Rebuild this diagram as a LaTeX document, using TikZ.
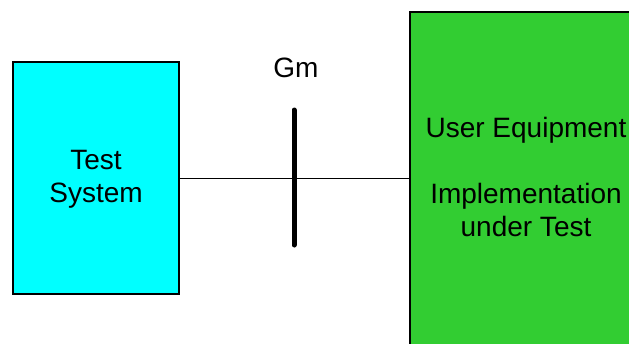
\documentclass[tikz,border=0pt]{standalone}
\usepackage{fontspec}
\setmainfont{Liberation Sans}
\definecolor{tscyan}{RGB}{0,255,255}
\definecolor{uegreen}{RGB}{50,205,50}
\begin{document}
\begin{tikzpicture}[x=1pt,y=-1pt,
  boxstyle/.style={draw=black,line width=1.5pt,inner sep=0pt},
  lbl/.style={font=\fontsize{28}{33}\selectfont,align=center,inner sep=0pt}]
\useasboundingbox (0,0) rectangle (629,343);
\begin{scope}
\clip (0,0) rectangle (629,343);
\draw[boxstyle,fill=tscyan] (13,62) rectangle (179,294);
\draw[boxstyle,fill=uegreen] (410,12) rectangle (640,360);
\end{scope}
\coordinate (tsr) at (179,178);
\coordinate (uel) at (410,178);
\node[lbl] (ts) at (96,179) {Test\\System};
\node[lbl] (ue) at (526,177) {User Equipment\\[33pt]Implementation\\under Test};
\node[lbl] (gm) at (296,68) {Gm};
\coordinate (gtop) at (294,110);
\coordinate (gbot) at (294,245);
\draw[line width=1pt] (tsr) -- (uel);
\draw[line width=5pt,line cap=round] (gtop) -- (gbot);
\end{tikzpicture}
\end{document}
